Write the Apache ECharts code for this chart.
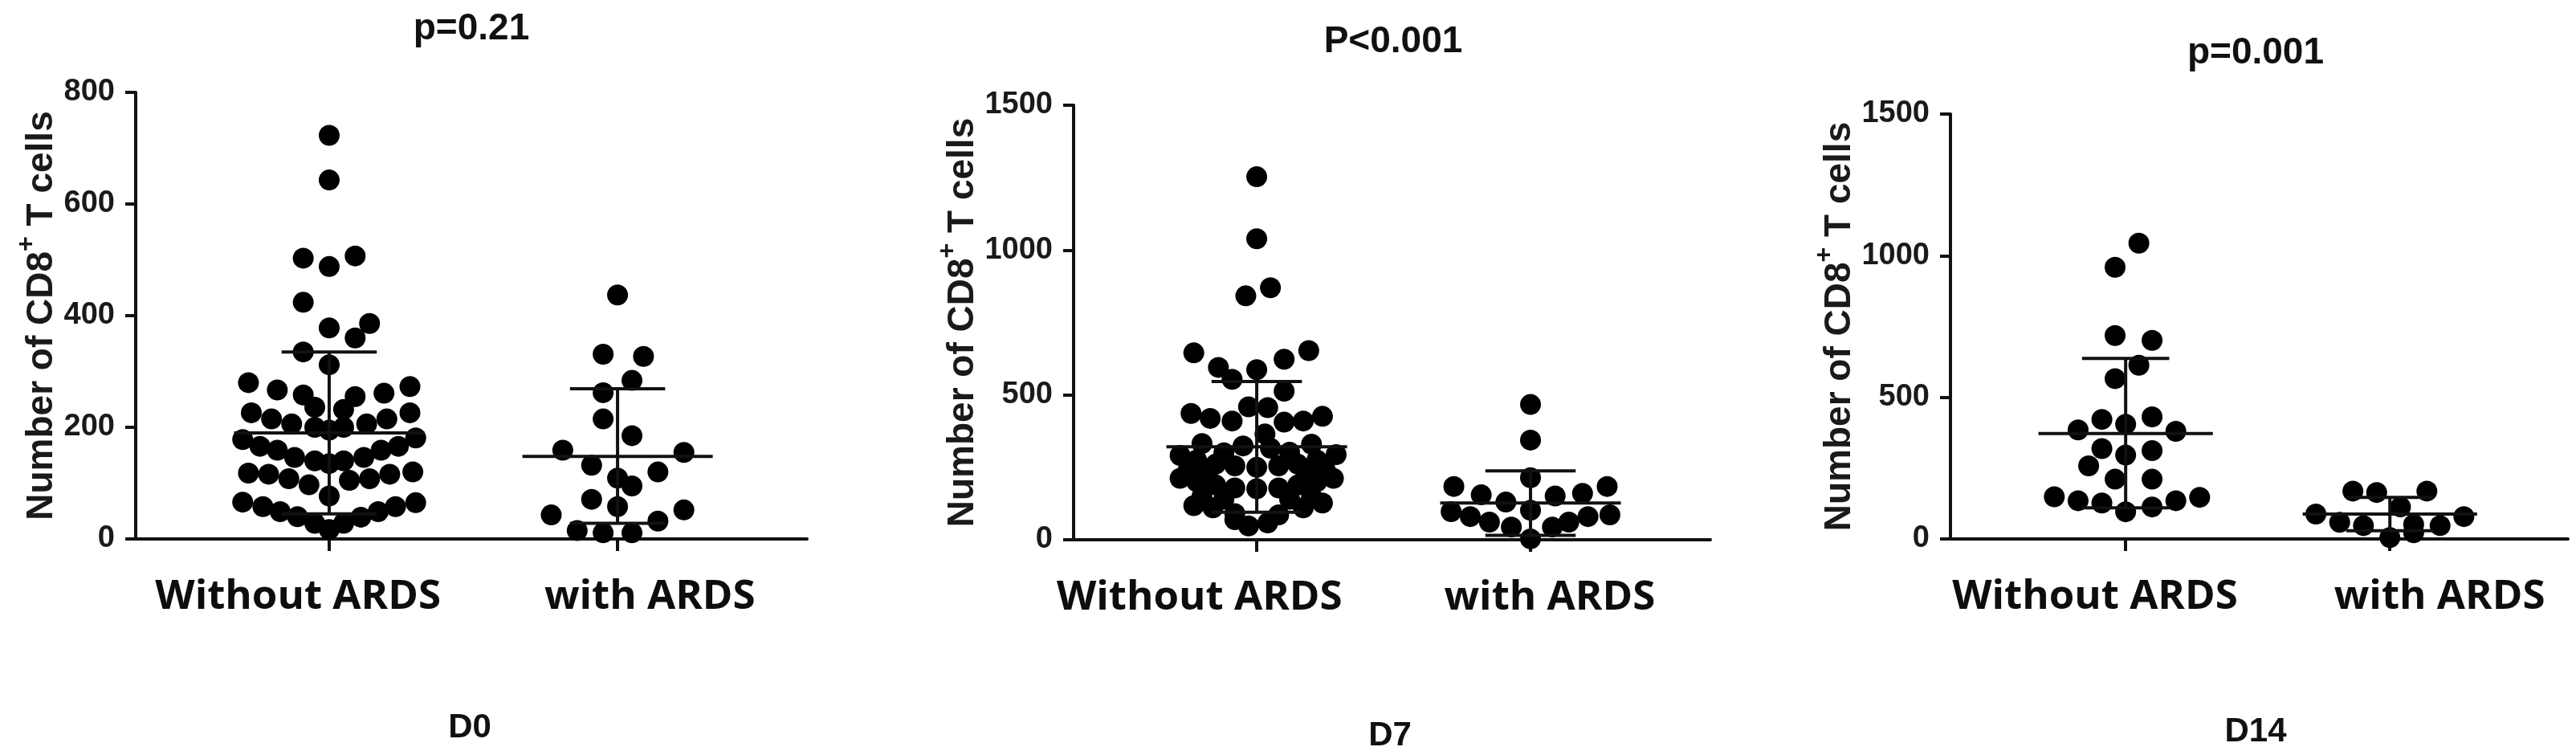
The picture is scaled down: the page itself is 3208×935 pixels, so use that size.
<!DOCTYPE html>
<html>
<head>
<meta charset="utf-8">
<script src="https://cdn.jsdelivr.net/npm/echarts@6/dist/echarts.min.js"></script>
<style>
html,body{margin:0;padding:0;background:#fff;}
#chart{width:3208px;height:935px;}
</style>
</head>
<body>
<div id="chart"></div>
<script>
// ---------- data ----------
const categories = ['Without ARDS', 'with ARDS'];
const pLabels = ['p=0.21', 'P<0.001', 'p=0.001'];
const dayLabels = ['D0', 'D7', 'D14'];
const yMaxes = [800, 1500, 1500];
const yIntervals = [200, 500, 500];

// [horizontal offset within the group (category units), number of CD8+ T cells]
const d0Without = [
  [0,723],[0,643],[-0.09,503],[0,488],[0.09,507],[-0.09,424],[0,378],[0.14,386],[0.09,360],[-0.09,335],[0,312],
  [-0.28,280],[-0.18,267],[-0.09,258],[0.09,255],[0.19,261],[0.28,273],[-0.05,236],[0.05,232],
  [-0.27,226],[-0.2,215],[-0.13,206],[-0.05,200],[0,195],[0.05,200],[0.13,206],[0.2,215],[0.28,226],
  [-0.3,178],[-0.24,166],[-0.18,159],[-0.12,146],[-0.05,140],[0,135],[0.05,140],[0.12,146],[0.18,159],[0.24,166],[0.3,181],
  [-0.28,118],[-0.21,116],[-0.14,108],[-0.07,97],[0,77],[0.07,105],[0.14,108],[0.21,116],[0.29,120],
  [-0.3,66],[-0.23,58],[-0.17,49],[-0.11,40],[-0.05,28],[0,17],[0.05,28],[0.11,39],[0.17,49],[0.23,58],[0.3,65]
];
const d0With = [
  [0,437],[-0.05,331],[0.09,327],[0.05,284],[-0.05,262],[-0.05,215],[0.05,185],[-0.19,159],[0.23,155],
  [-0.09,132],[0,109],[0.14,120],[0.05,95],[-0.09,71],[0,58],[-0.23,43],[0.23,52],[0.14,32],
  [-0.14,15],[-0.05,11],[0.05,11]
];
const d7Without = [
  [0,1253],[0,1039],[-0.04,842],[0.05,870],[-0.23,645],[0.19,653],[-0.14,595],[0,587],[0.1,623],[-0.09,554],[0.1,513],
  [-0.24,436],[-0.17,419],[-0.09,410],[-0.03,459],[0.04,456],[0.1,406],[0.17,410],[0.24,426],
  [0.03,365],[-0.05,324],[0.05,316],[-0.2,332],[0.2,330],[-0.12,300],[0.12,302],
  [-0.28,291],[-0.22,275],[-0.15,261],[-0.08,255],[0,250],[0.08,255],[0.15,261],[0.22,275],[0.29,294],
  [-0.25,242],[-0.18,225],[0.18,225],[0.25,242],
  [-0.28,212],[-0.22,201],[-0.15,189],[-0.08,179],[0,176],[0.08,179],[0.15,189],[0.22,201],[0.28,212],
  [-0.2,150],[-0.12,140],[0.12,140],[0.2,150],
  [-0.23,118],[-0.16,110],[-0.08,90],[0.08,86],[0.17,110],[0.24,127],
  [-0.08,69],[-0.03,48],[0.04,58]
];
const d7With = [
  [0,467],[0,344],[0,214],[-0.28,184],[0.28,184],[-0.18,155],[-0.09,130],[0.09,151],[0.19,160],
  [-0.29,97],[-0.22,80],[-0.15,61],[-0.07,44],[0.08,44],[0.14,61],[0.21,80],[0.29,86],[0,102],[0,3]
];
const d14Without = [
  [0.05,1044],[-0.04,959],[-0.04,718],[0.1,701],[0.05,613],[-0.04,566],
  [-0.18,385],[-0.09,422],[0,405],[0.1,431],[0.19,380],
  [-0.09,319],[0.1,312],[0,296],[-0.14,258],[-0.04,211],[0.1,211],
  [-0.27,149],[-0.18,135],[-0.09,127],[0,96],[0.1,113],[0.19,135],[0.28,147]
];
const d14With = [
  [-0.14,169],[-0.05,164],[0.14,169],[0.04,113],[-0.28,88],[0.28,79],
  [-0.19,59],[-0.1,47],[0.09,51],[0.19,47],[0,5],[0.09,22]
];

// mean and SD limits [Without ARDS, with ARDS]
const d0Mean = [190, 148], d0Upper = [335, 269], d0Lower = [45, 28];
const d7Mean = [321, 127], d7Upper = [546, 238], d7Lower = [95, 15];
const d14Mean = [372, 88], d14Upper = [637, 147], d14Lower = [110, 29];

// ---------- layout ----------
const grids = [
  {left: 169, top: 115, width: 836, height: 556},
  {left: 1337, top: 131, width: 793, height: 541},
  {left: 2429, top: 142, width: 769, height: 529}
];
const xRanges = [[0.329, 2.657], [0.331, 2.657], [0.337, 2.674]];
// where the category names sit along each x axis (they are not centred on the ticks)
const labelSpots = [[0.892, 2.112], [0.791, 2.070], [0.884, 2.188]];
const nameGaps = [94, 107, 99];
const titleLefts = [582, 1730, 2804];
const dayLefts = [580, 1726, 2804];
const titleTops = [8, 24, 38];
const dayTops = [880, 890, 885];

const groups = [[d0Without, d0With], [d7Without, d7With], [d14Without, d14With]];
const stats = [[d0Mean, d0Lower, d0Upper], [d7Mean, d7Lower, d7Upper], [d14Mean, d14Lower, d14Upper]];

const MEAN_HALF = 0.33, CAP_HALF = 0.165;
const ink = '#111';
const numFont = '"Liberation Sans", Arial, sans-serif';
const catFont = '"Open Sans", "Noto Sans", sans-serif';

const xAxes = [], yAxes = [], series = [], titles = [];
for (let i = 0; i < 3; i++) {
  xAxes.push({
    gridIndex: i, type: 'value', min: xRanges[i][0], max: xRanges[i][1],
    axisLine: {show: true, onZero: true, lineStyle: {color: ink, width: 4}},
    axisTick: {show: true, customValues: [1, 2], length: 15, lineStyle: {color: ink, width: 4}},
    axisLabel: {
      show: true, customValues: labelSpots[i], margin: 47,
      formatter: v => (v < 1.5 ? categories[0] : categories[1]),
      fontFamily: catFont, fontWeight: 'bold', fontSize: 51, color: '#0d0d0d'
    },
    splitLine: {show: false}
  });
  yAxes.push({
    gridIndex: i, type: 'value', min: 0, max: yMaxes[i], interval: yIntervals[i],
    axisLine: {show: true, lineStyle: {color: ink, width: 4}},
    axisTick: {show: true, length: 13, lineStyle: {color: ink, width: 4}},
    axisLabel: {
      margin: 26, fontFamily: numFont, fontWeight: 'bold', fontSize: 38, color: '#1a1a1a',
      formatter: v => String(v)
    },
    splitLine: {show: false},
    name: '{n|Number of CD8}{s|+}{n| T cells}',
    nameLocation: 'middle', nameGap: nameGaps[i],
    nameTextStyle: {
      rich: {
        n: {fontFamily: numFont, fontWeight: 'bold', fontSize: 46, color: '#1a1a1a', lineHeight: 58, verticalAlign: 'bottom'},
        s: {fontFamily: numFont, fontWeight: 'bold', fontSize: 32, color: '#1a1a1a', lineHeight: 58, verticalAlign: 'top'}
      }
    }
  });
  groups[i].forEach((g, k) => {
    series.push({
      type: 'scatter', xAxisIndex: i, yAxisIndex: i,
      symbol: 'circle', symbolSize: 26,
      itemStyle: {color: '#000', opacity: 1},
      data: g.map(p => [k + 1 + p[0], p[1]]),
      z: 2, silent: true
    });
  });
  const [mean, lower, upper] = stats[i];
  series.push({
    type: 'custom', xAxisIndex: i, yAxisIndex: i, z: 3, silent: true,
    data: [0, 1].map(k => [k + 1, mean[k], lower[k], upper[k]]),
    renderItem: (params, api) => {
      const x = api.value(0), m = api.value(1), lo = api.value(2), hi = api.value(3);
      const seg = (a, b) => ({
        type: 'line',
        shape: {x1: a[0], y1: a[1], x2: b[0], y2: b[1]},
        style: {stroke: ink, lineWidth: 4}
      });
      return {
        type: 'group',
        children: [
          seg(api.coord([x - MEAN_HALF, m]), api.coord([x + MEAN_HALF, m])),
          seg(api.coord([x, lo]), api.coord([x, hi])),
          seg(api.coord([x - CAP_HALF, hi]), api.coord([x + CAP_HALF, hi])),
          seg(api.coord([x - CAP_HALF, lo]), api.coord([x + CAP_HALF, lo]))
        ]
      };
    }
  });
  titles.push({
    text: pLabels[i], left: titleLefts[i], top: titleTops[i], textAlign: 'center',
    textStyle: {fontFamily: numFont, fontWeight: 'bold', fontSize: 46, color: '#111'}
  });
  titles.push({
    text: dayLabels[i], left: dayLefts[i], top: dayTops[i], textAlign: 'center',
    textStyle: {fontFamily: numFont, fontWeight: 'bold', fontSize: 42, color: '#111'}
  });
}

const chart = echarts.init(document.getElementById('chart'), null, {renderer: 'canvas'});
chart.setOption({
  backgroundColor: '#fff',
  animation: false,
  title: titles,
  grid: grids,
  xAxis: xAxes,
  yAxis: yAxes,
  series: series
});
</script>
</body>
</html>
